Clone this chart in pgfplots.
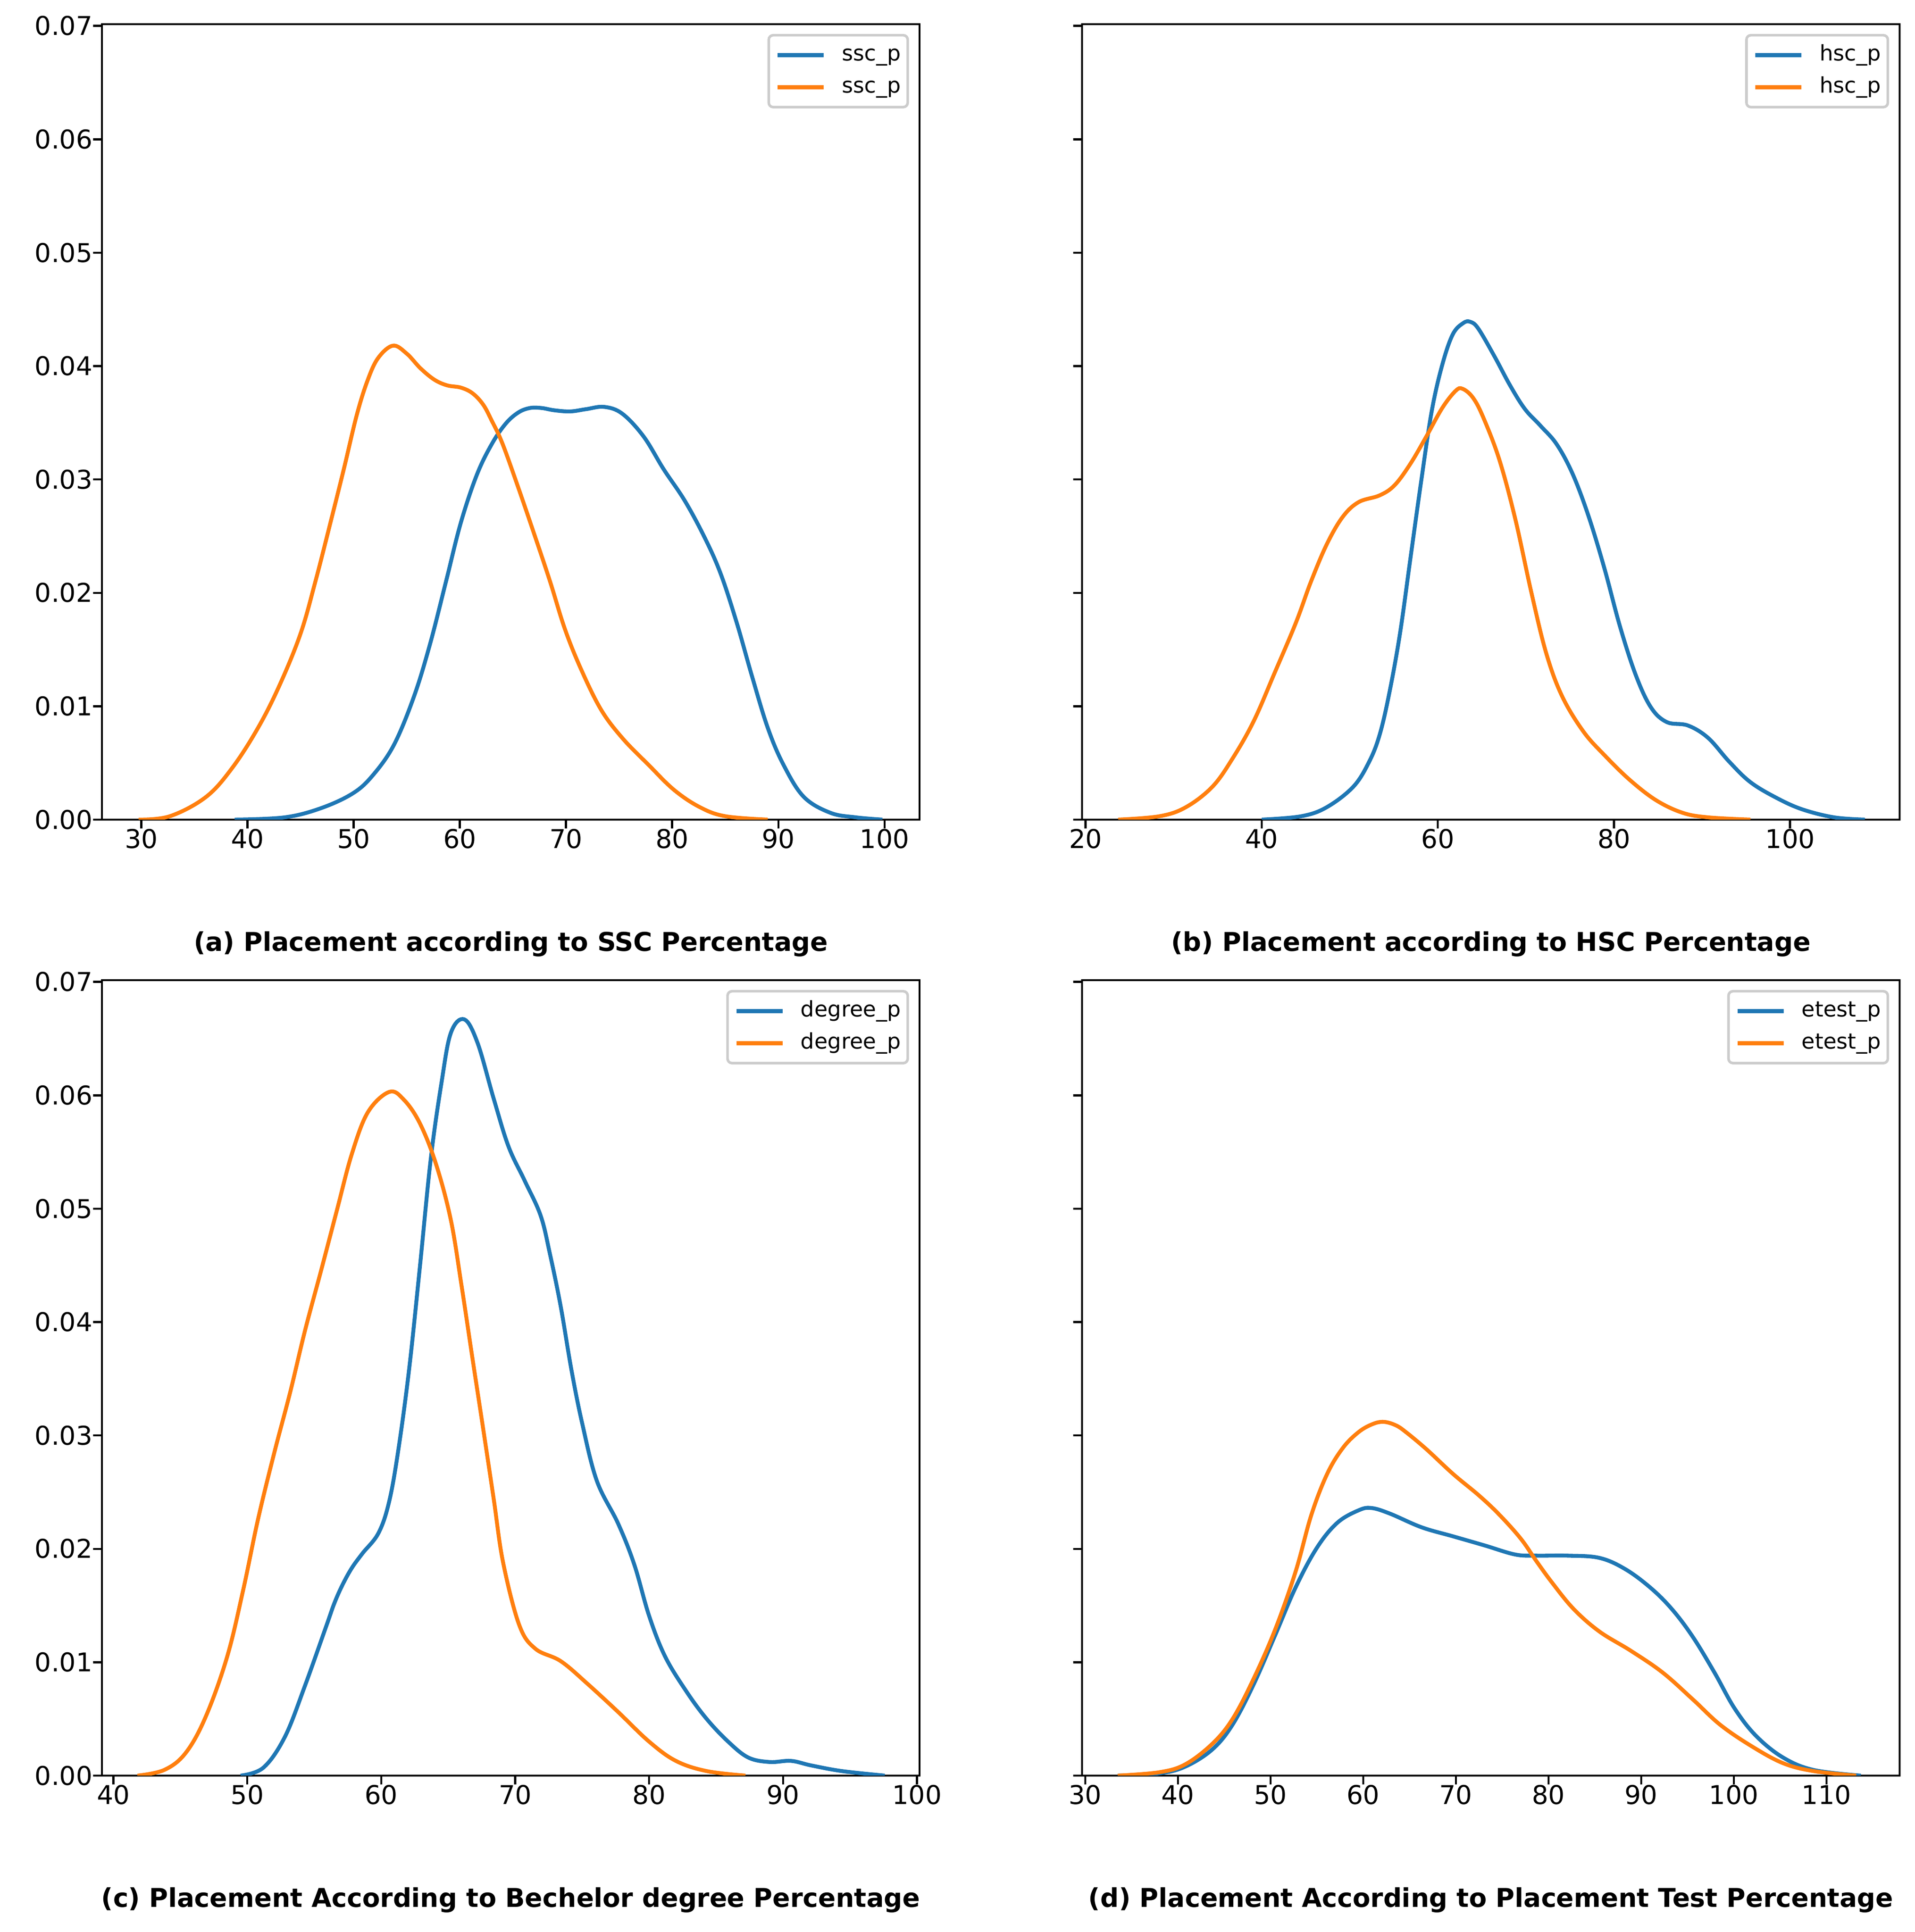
\documentclass[border=0pt]{standalone}
\usepackage{fontspec}
\setmainfont{DejaVu Sans}
\usepackage{pgfplots}
\pgfplotsset{compat=1.18}
\definecolor{tabblue}{HTML}{1F77B4}
\definecolor{taborange}{HTML}{FF7F0E}
\definecolor{legframe}{HTML}{CCCCCC}
\pgfplotsset{
 kde/.style={
  scale only axis, width=316.1bp, height=307.65bp,
  ymin=0, ymax=0.07016,
  ytick={0,0.01,0.02,0.03,0.04,0.05,0.06,0.07},
  yticklabel style={/pgf/number format/.cd, fixed, fixed zerofill, precision=2},
  scaled y ticks=false,
  tick align=outside, major tick length=3.5bp,
  xtick pos=bottom, ytick pos=left,
  tick style={line width=0.8bp, black},
  axis line style={line width=0.8bp},
  tick label style={font=\fontsize{10bp}{12bp}\selectfont, inner sep=0pt},
  /pgf/number format/assume math mode=true,
  every axis plot/.append style={line width=1.5bp, smooth, tension=0.6, no markers},
  legend style={at={(1,1)}, anchor=north east, xshift=-4.1bp, yshift=-3.8bp,
    draw=legframe, line width=1bp, rounded corners=1.7bp,
    font=\fontsize{8.33bp}{10bp}\selectfont, inner xsep=2.7bp, inner ysep=3.8bp,
    row sep=4.6bp, nodes={inner sep=0pt, text height=6bp, text depth=1.8bp},
    /tikz/every odd column/.append style={column sep=6.3bp}},
  legend cell align=left,
  legend image code/.code={\draw[#1] (0bp,0bp) -- (17.8bp,0bp);},
  xlabel style={at={(axis description cs:0.5,0)}, anchor=base, yshift=-50.8bp,
    font=\bfseries\fontsize{10bp}{12bp}\selectfont, inner sep=0pt},
 }
}
\begin{document}
\begin{tikzpicture}
\useasboundingbox (0,0) rectangle (740.34bp,747.18bp);
% (a)
\begin{axis}[kde, at={(39.42bp,430.2bp)}, anchor=south west,
  xmin=26.3, xmax=103.3, xtick={30,40,50,60,70,80,90,100},
  xlabel={(a) Placement according to SSC Percentage}]
\addplot[tabblue] coordinates {(38.8,0)(43.5,0.0002)(46.9,0.001)(49.9,0.0023)(51.8,0.0039)(53.8,0.0066)(55.7,0.0109)(57.2,0.0155)(58.7,0.021)(60.1,0.0262)(61.6,0.0304)(63.0,0.0331)(64.3,0.0349)(65.5,0.0359)(66.6,0.0363)(67.7,0.0363)(68.9,0.0361)(70.4,0.036)(71.9,0.0362)(73.6,0.0364)(75.3,0.0358)(77.3,0.0338)(79.2,0.0309)(81.2,0.0281)(83.1,0.0248)(84.6,0.0216)(86.1,0.0173)(87.5,0.0127)(89.0,0.0081)(90.5,0.0048)(92.4,0.002)(94.9,0.0006)(97.3,0.0002)(99.8,0)};
\addlegendentry{ssc\_p}
\addplot[taborange] coordinates {(29.75,0)(32.7,0.0003)(36.1,0.002)(38.6,0.0046)(41.0,0.0081)(43.0,0.0118)(45.0,0.0164)(46.4,0.021)(47.9,0.0265)(49.1,0.031)(50.3,0.0357)(51.3,0.0387)(52.3,0.0407)(53.7,0.0418)(55.0,0.0411)(56.3,0.0398)(57.6,0.0388)(58.8,0.0383)(60.1,0.0381)(61.2,0.0376)(62.2,0.0366)(63.0,0.0352)(64.0,0.0332)(65.5,0.0293)(67.0,0.0252)(68.5,0.021)(69.9,0.0168)(71.4,0.0133)(73.3,0.0097)(75.3,0.0072)(77.8,0.0048)(80.2,0.0026)(82.6,0.0011)(85.0,0.0003)(89.0,0)};
\addlegendentry{ssc\_p}
\end{axis}
% (b)
\begin{axis}[kde, at={(418.32bp,430.2bp)}, anchor=south west,
  xmin=19.6, xmax=112.45, xtick={20,40,60,80,100}, yticklabels={},
  xlabel={(b) Placement according to HSC Percentage}]
\addplot[tabblue] coordinates {(40,0)(44.5,0.0003)(47.4,0.0011)(50.4,0.0029)(52.2,0.0051)(53.4,0.0075)(54.5,0.0112)(55.7,0.0164)(56.9,0.0231)(58.1,0.0298)(59.3,0.036)(60.5,0.0401)(61.7,0.0428)(62.9,0.0438)(63.7,0.0439)(64.6,0.0433)(66.4,0.0409)(68.2,0.0383)(69.9,0.0362)(71.7,0.0347)(73.5,0.0331)(75.3,0.0305)(77.1,0.0268)(78.9,0.0222)(80.7,0.017)(82.5,0.0127)(84.2,0.0099)(86.0,0.0086)(88.4,0.0083)(90.7,0.0072)(93.1,0.0051)(95.5,0.0033)(98.5,0.0019)(101.4,0.0009)(105.0,0.0002)(108.5,0)};
\addlegendentry{hsc\_p}
\addplot[taborange] coordinates {(23.7,0)(28.4,0.0003)(31.4,0.0011)(34.4,0.0029)(36.7,0.0054)(39.1,0.0087)(41.5,0.013)(43.9,0.0174)(45.6,0.021)(47.4,0.0243)(49.2,0.0267)(51.0,0.028)(53.4,0.0286)(55.1,0.0295)(56.9,0.0314)(58.7,0.0338)(60.5,0.0363)(62.0,0.0378)(62.8,0.038)(64.0,0.0372)(65.2,0.0354)(67.0,0.0317)(68.8,0.0265)(70.6,0.0201)(72.3,0.0147)(74.1,0.0109)(76.5,0.0078)(78.9,0.0057)(81.8,0.0035)(84.8,0.0017)(87.8,0.0006)(90.7,0.0002)(95.5,0)};
\addlegendentry{hsc\_p}
\end{axis}
% (c)
\begin{axis}[kde, at={(39.42bp,60.48bp)}, anchor=south west,
  xmin=39.15, xmax=100.2, xtick={40,50,60,70,80,90,100},
  xlabel={(c) Placement According to Bechelor degree Percentage}]
\addplot[tabblue] coordinates {(49.5,0)(51.2,0.0007)(52.8,0.0034)(54.3,0.0079)(55.9,0.0132)(56.5,0.0152)(57.1,0.0168)(57.8,0.0183)(58.6,0.0196)(59.8,0.0214)(60.6,0.0242)(61.3,0.0289)(62.1,0.036)(62.9,0.045)(63.7,0.0544)(64.5,0.0611)(65.2,0.0655)(66.2,0.0667)(67.2,0.0646)(68.4,0.0597)(69.5,0.0555)(70.7,0.0525)(71.9,0.0494)(72.6,0.0460)(73.4,0.0414)(74.2,0.0358)(75.0,0.0311)(76.1,0.0260)(77.7,0.0222)(78.9,0.0186)(80.0,0.0141)(81.2,0.0105)(82.8,0.0074)(84.3,0.005)(85.9,0.003)(87.4,0.0016)(89.0,0.0012)(90.6,0.0013)(92.1,0.0009)(94.4,0.0004)(97.6,0)};
\addlegendentry{degree\_p}
\addplot[taborange] coordinates {(41.8,0)(43.8,0.0005)(45.4,0.002)(46.9,0.0052)(48.5,0.0105)(49.7,0.0164)(50.8,0.0226)(52.0,0.0284)(53.2,0.0338)(54.3,0.0392)(55.5,0.0445)(56.7,0.0499)(57.8,0.0548)(59.0,0.0585)(60.6,0.0603)(61.7,0.0596)(62.9,0.0575)(64.1,0.0539)(65.2,0.049)(66.0,0.0432)(66.8,0.0369)(67.6,0.0307)(68.4,0.0244)(69.1,0.0188)(70.3,0.0133)(71.5,0.0112)(73.4,0.0101)(75.4,0.0081)(77.7,0.0056)(80.0,0.003)(82.0,0.0013)(84.3,0.0004)(87.2,0)};
\addlegendentry{degree\_p}
\end{axis}
% (d)
\begin{axis}[kde, at={(418.32bp,60.48bp)}, anchor=south west,
  xmin=29.65, xmax=117.9, xtick={30,40,50,60,70,80,90,100,110}, yticklabels={},
  xlabel={(d) Placement According to Placement Test Percentage}]
\addplot[tabblue] coordinates {(33.5,0)(38.0,0.0002)(40.8,0.0008)(43.7,0.0023)(45.9,0.0045)(48.2,0.0081)(50.5,0.0124)(52.7,0.0166)(55.0,0.0201)(57.2,0.0223)(59.5,0.0234)(60.9,0.0236)(62.9,0.0231)(66.3,0.0219)(69.7,0.0211)(73.1,0.0203)(76.4,0.0195)(78.7,0.0194)(82.1,0.0194)(85.5,0.0192)(88.3,0.0182)(91.1,0.0165)(93.4,0.0146)(95.6,0.0122)(97.9,0.0091)(100.1,0.0059)(102.4,0.0035)(105.3,0.0016)(108.6,0.0005)(113.7,0)};
\addlegendentry{etest\_p}
\addplot[taborange] coordinates {(33.5,0)(38.0,0.0003)(40.8,0.001)(43.7,0.0028)(45.9,0.005)(48.2,0.0086)(50.5,0.0129)(52.7,0.0180)(54.4,0.0230)(56.1,0.0266)(57.8,0.0289)(59.5,0.0303)(61.0,0.0310)(62.2,0.0312)(63.5,0.0309)(64.6,0.0303)(66.8,0.0288)(69.7,0.0266)(72.5,0.0247)(74.7,0.023)(77.0,0.0209)(78.7,0.0189)(80.4,0.017)(82.7,0.0147)(85.5,0.0127)(88.9,0.011)(92.3,0.0091)(95.6,0.0067)(98.5,0.0045)(101.9,0.0026)(105.3,0.0011)(108.6,0.0004)(113.2,0)};
\addlegendentry{etest\_p}
\end{axis}
\end{tikzpicture}
\end{document}
